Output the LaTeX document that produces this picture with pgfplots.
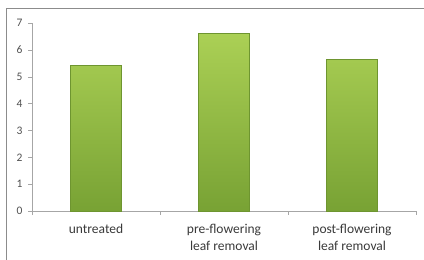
\documentclass[border=0pt]{standalone}
\usepackage{fontspec}
\setmainfont{Carlito}
\usepackage{pgfplots}
\pgfplotsset{compat=1.18}
\definecolor{axgray}{HTML}{A6A6A6}
\definecolor{framegray}{HTML}{8C8C8C}
\definecolor{txtgray}{HTML}{3A3A3A}
\definecolor{ticktxt}{HTML}{505050}
\definecolor{bartop}{HTML}{ABD055}
\definecolor{barbot}{HTML}{78A234}
\definecolor{baredge}{HTML}{6E9530}
\begin{document}
\begin{tikzpicture}
\useasboundingbox (-32pt,-49pt) rectangle (392pt,211pt);
\draw[framegray, line width=1pt] (-25pt,-60pt) -- (-25pt,202pt) -- (400pt,202pt);
\begin{axis}[
  at={(0,0)}, anchor=south west,
  scale only axis,
  width=384pt, height=188pt,
  xmin=-0.5, xmax=2.5,
  ymin=0, ymax=7,
  axis x line=bottom, axis y line=left,
  axis line style={axgray, -},
  xtick={0,1,2},
  xticklabels={untreated, pre-flowering\\leaf removal, post-flowering\\leaf removal},
  major x tick style={draw=none},
  minor xtick={-0.5,0.5,1.5,2.5},
  minor x tick style={axgray},
  minor tick length=4pt,
  xtick pos=bottom,
  x tick label style={font=\fontsize{13.5}{17}\selectfont, text=txtgray, align=center, yshift=-6pt},
  ytick={0,1,...,7},
  ytick pos=left,
  major y tick style={axgray},
  major tick length=4pt,
  tick align=outside,
  y tick label style={font=\fontsize{11.5}{12}\selectfont, text=ticktxt, xshift=-2pt},
  /pgf/number format/assume math mode=true,
  ybar, bar width=51pt,
  clip=false,
]
\addplot[ybar, draw=baredge, line width=0.4pt, top color=bartop, bottom color=barbot]
  coordinates {(0,5.42) (1,6.62) (2,5.65)};
\end{axis}
\end{tikzpicture}
\end{document}
